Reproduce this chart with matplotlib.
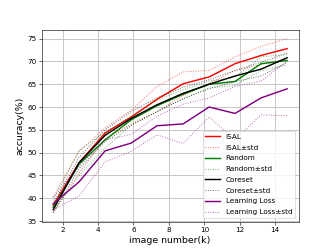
import matplotlib
matplotlib.use('Agg')
import matplotlib.pyplot as plt
import numpy as np

# image number (k)
x = [1.47, 2.93, 4.40, 5.87, 7.33, 8.80, 10.27, 11.73, 13.20, 14.67]

isal = [38.5, 47.8, 54.3, 57.8, 61.7, 65.1, 66.6, 69.5, 71.3, 72.8]
isal_up = [40.3, 50.3, 55.4, 59.3, 64.5, 67.7, 68.0, 71.0, 73.3, 75.0]
isal_lo = [36.9, 45.5, 53.0, 56.3, 59.0, 62.5, 65.2, 68.0, 69.3, 70.6]

random_ = [38.0, 47.5, 52.8, 57.2, 60.3, 62.8, 65.0, 65.6, 69.5, 70.2]
random_up = [39.5, 50.5, 54.5, 58.0, 61.5, 63.8, 65.7, 66.5, 71.0, 71.5]
random_lo = [37.0, 45.0, 51.0, 56.0, 59.0, 61.8, 64.2, 64.7, 68.0, 69.2]

coreset = [37.5, 47.8, 53.8, 57.5, 60.5, 63.0, 65.0, 66.8, 68.3, 70.8]
coreset_up = [38.8, 49.0, 55.0, 59.0, 62.0, 64.3, 66.0, 68.0, 69.8, 71.8]
coreset_lo = [36.8, 46.5, 52.5, 56.0, 59.0, 61.8, 64.0, 65.6, 66.8, 69.8]

ll = [38.8, 43.6, 50.4, 52.1, 55.9, 56.3, 60.0, 58.6, 62.0, 64.0]
ll_up = [40.2, 47.0, 52.8, 54.0, 58.0, 60.6, 62.0, 64.5, 65.7, 70.0]
ll_lo = [37.5, 40.5, 48.0, 50.3, 53.9, 52.0, 57.8, 52.8, 58.3, 58.1]

fig = plt.figure(figsize=(332 / 52, 249 / 52), dpi=52)
ax = fig.add_subplot(111)

series = [
    ('ISAL', isal, isal_up, isal_lo, 'red'),
    ('Random', random_, random_up, random_lo, 'green'),
    ('Coreset', coreset, coreset_up, coreset_lo, 'black'),
    ('Learning Loss', ll, ll_up, ll_lo, 'purple'),
]

for name, mean, up, lo, c in series:
    ax.plot(x, mean, color=c, linewidth=2.0, label=name)
    ax.plot(x, up, color=c, linestyle=':', linewidth=1.3, alpha=0.6, label=name + '±std')
    ax.plot(x, lo, color=c, linestyle=':', linewidth=1.3, alpha=0.6)

ax.set_xticks([2, 4, 6, 8, 10, 12, 14])
ax.set_yticks([35, 40, 45, 50, 55, 60, 65, 70, 75])
ax.tick_params(labelsize=10)
ax.grid(True, linewidth=1.4, color='#c8c8c8')
ax.set_xlabel('image number(k)', fontsize=13)
ax.set_ylabel('accuracy(%)', fontsize=13)
ax.legend(loc='lower right', fontsize=10, labelspacing=0.65)

fig.savefig('out.png', dpi=52)
